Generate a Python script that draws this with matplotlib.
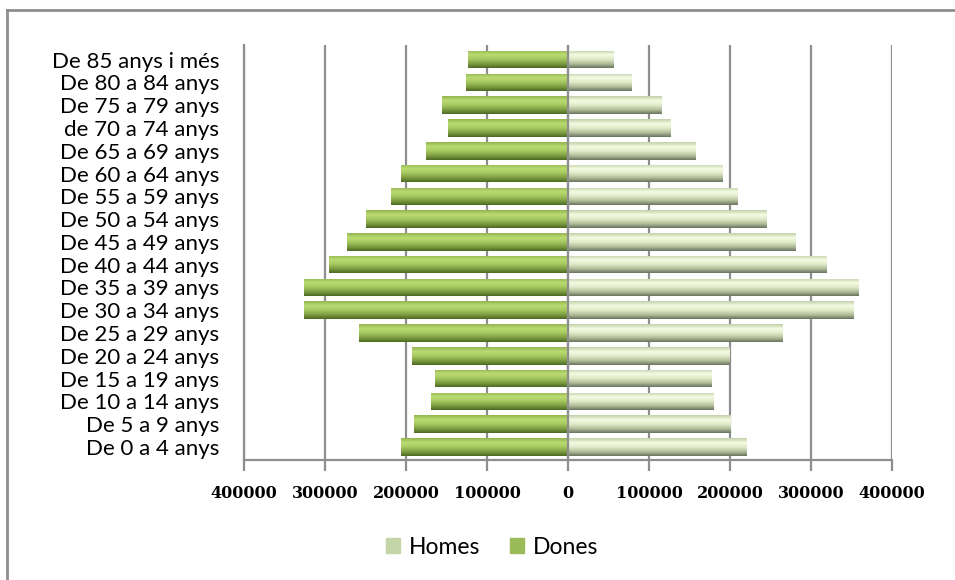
import matplotlib

matplotlib.use("Agg")
import matplotlib.pyplot as plt
import numpy as np
from matplotlib.colors import LinearSegmentedColormap
from matplotlib.lines import Line2D
from matplotlib.patches import Patch

# age groups, youngest first (bottom of the pyramid)
groups = [
  "De 0 a 4 anys", "De 5 a 9 anys", "De 10 a 14 anys", "De 15 a 19 anys",
  "De 20 a 24 anys", "De 25 a 29 anys", "De 30 a 34 anys", "De 35 a 39 anys",
  "De 40 a 44 anys", "De 45 a 49 anys", "De 50 a 54 anys", "De 55 a 59 anys",
  "De 60 a 64 anys", "De 65 a 69 anys", "de 70 a 74 anys", "De 75 a 79 anys",
  "De 80 a 84 anys", "De 85 anys i més",
]
homes = [220600, 201000, 180000, 177000, 200000, 264600, 352000, 359000, 319000,
         281000, 245000, 209500, 191000, 158000, 126000, 116000, 79000, 55900]
dones = [206000, 189700, 168700, 164600, 192000, 257600, 326000, 326000, 295000,
         272500, 249000, 219000, 206500, 175700, 148000, 155000, 126000, 123800]
ticks = [-400000, -300000, -200000, -100000, 0, 100000, 200000, 300000, 400000]
tick_labels = ["400000", "300000", "200000", "100000", "0",
               "100000", "200000", "300000", "400000"]

grid_col = "#8e8e8e"
cm_dones = LinearSegmentedColormap.from_list(
  "dones", [(0, "#93b450"), (0.25, "#bbdc72"), (0.5, "#a6c860"),
            (0.78, "#7b9a40"), (1, "#4c6824")])
cm_homes = LinearSegmentedColormap.from_list(
  "homes", [(0, "#c3d0aa"), (0.25, "#f3fbe3"), (0.5, "#e2ecca"),
            (0.78, "#aeba96"), (1, "#687360")])

fig = plt.figure(figsize=(9.55, 5.8), dpi=100)
ax = fig.add_axes([244 / 955, 1 - 460 / 580, (892 - 244) / 955, (460 - 45) / 580])

y = np.arange(len(groups))
h = 0.77
bars_h = ax.barh(y, homes, height=h, color="#c4d6a8", zorder=2)
bars_d = ax.barh(y, -np.array(dones), height=h, color="#9bbb59", zorder=2)

# gradient fill clipped to each bar
grad = np.linspace(0, 1, 64).reshape(-1, 1)
for bars, cmap in ((bars_h, cm_homes), (bars_d, cm_dones)):
  for p in bars:
    x0, y0 = p.get_x(), p.get_y()
    x1, y1 = x0 + p.get_width(), y0 + p.get_height()
    im = ax.imshow(grad, cmap=cmap, aspect="auto", zorder=3,
                   extent=[min(x0, x1), max(x0, x1), y0, y1],
                   interpolation="bilinear")
    im.set_clip_path(p)

ax.axvline(0, color=grid_col, lw=1.6, zorder=4)
ax.set_xlim(-400000, 400000)
ax.set_ylim(-0.57, 17.64)
ax.set_xticks(ticks)
ax.set_xticklabels(tick_labels)
ax.set_yticks(y)
ax.set_yticklabels(groups)
ax.xaxis.grid(True, color=grid_col, lw=1.6, zorder=0)
ax.set_axisbelow(True)
for side in ("top", "right"):
  ax.spines[side].set_visible(False)
for side in ("left", "bottom"):
  ax.spines[side].set_color(grid_col)
  ax.spines[side].set_linewidth(1.6)
ax.tick_params(axis="x", length=8, width=1.6, color=grid_col, pad=10)
ax.tick_params(axis="y", length=0, pad=18)
for lab in ax.get_xticklabels():
  lab.set_fontfamily("DejaVu Serif")
  lab.set_fontweight("bold")
  lab.set_fontsize(11.5)
for lab in ax.get_yticklabels():
  lab.set_fontfamily("Lato")
  lab.set_fontsize(16)

handles = [Patch(color="#c4d6a8", label="Homes"), Patch(color="#9bbb59", label="Dones")]
fig.legend(handles=handles, loc="center", bbox_to_anchor=(492 / 955, 1 - 547 / 580),
           ncol=2, frameon=False, prop={"family": "Lato", "size": 16.5},
           handlelength=0.6, handleheight=0.6, handletextpad=0.4, columnspacing=1.3)

# outer chart frame (only the left and top edges fall inside the picture)
fig.add_artist(Line2D([7 / 955, 7 / 955], [0, 1 - 10 / 580], color=grid_col, lw=2))
fig.add_artist(Line2D([7 / 955, 1], [1 - 10 / 580, 1 - 10 / 580], color=grid_col, lw=2))

fig.savefig("out.png", dpi=100)
